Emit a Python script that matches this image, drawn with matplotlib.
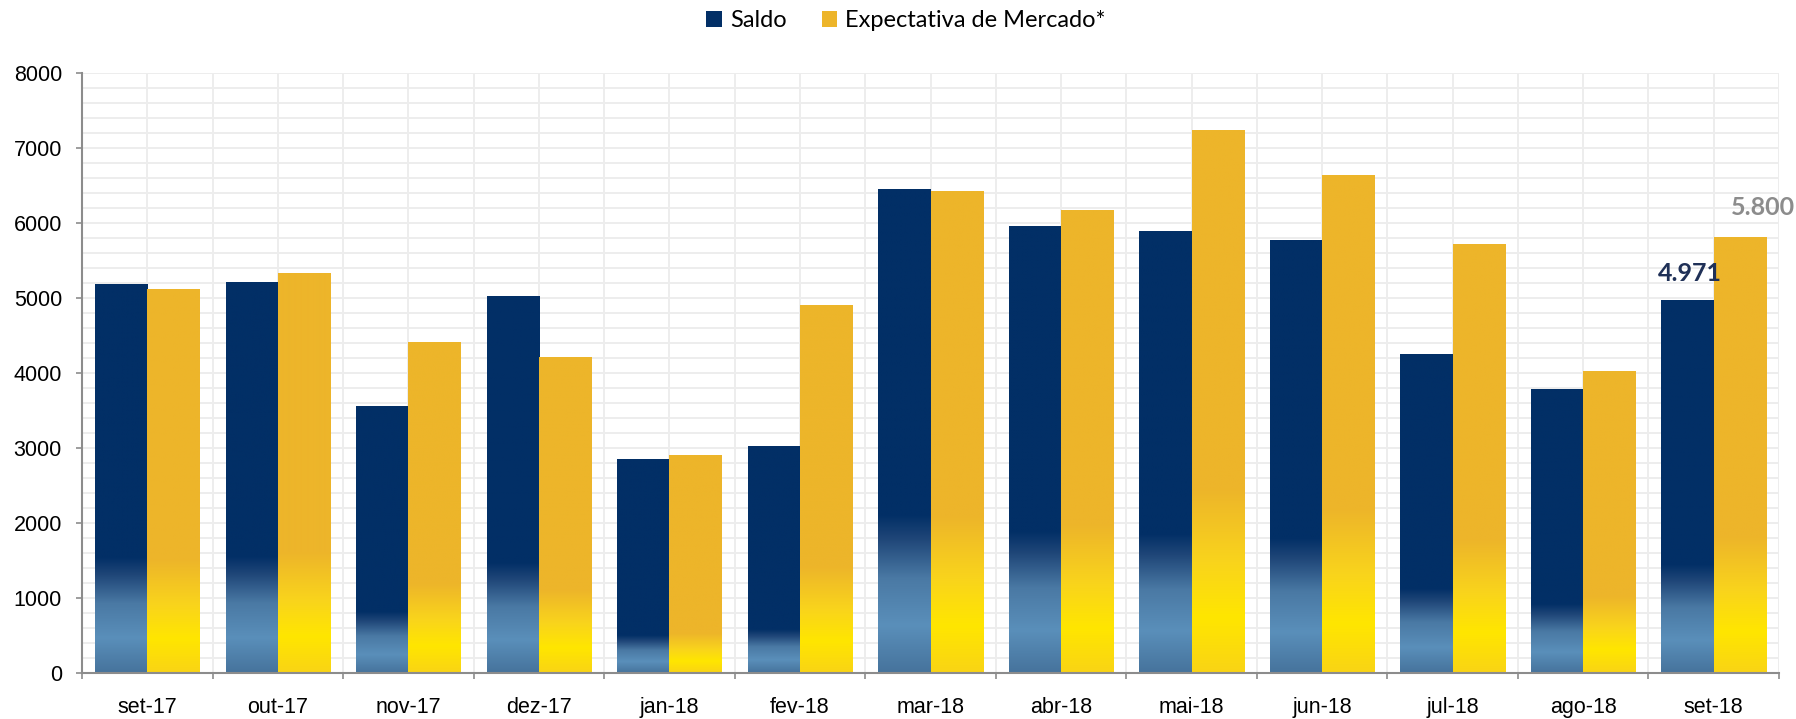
import numpy as np
import matplotlib
matplotlib.use("Agg")
import matplotlib.pyplot as plt
from matplotlib.patches import Patch
from matplotlib.colors import to_rgb

# data
months = ["set-17", "out-17", "nov-17", "dez-17", "jan-18", "fev-18", "mar-18",
          "abr-18", "mai-18", "jun-18", "jul-18", "ago-18", "set-18"]
saldo = [5180, 5200, 3550, 5020, 2840, 3020, 6440, 5950, 5880, 5760, 4250, 3780, 4971]
expectativa = [5110, 5330, 4400, 4200, 2900, 4900, 6420, 6160, 7230, 6630, 5710, 4020, 5800]
label_saldo = "4.971"
label_expect = "5.800"

NAVY = "#022f66"
GOLD = "#edb52a"
# gradient stops (fraction of the transition height -> colour)
BLUE_STOPS = [(0.0, "#46739c"), (0.3, "#5a8fba"), (0.6, "#4a79a4"), (0.85, "#1f4678"), (1.0, NAVY)]
GOLD_STOPS = [(0.0, "#f9d415"), (0.3, "#ffe600"), (0.6, "#f9d41c"), (1.0, GOLD)]

plt.rcParams["font.family"] = ["Liberation Sans", "DejaVu Sans"]

fig = plt.figure(figsize=(17.96, 7.19), dpi=100)
ax = fig.add_axes([0.0457, 0.064, 0.9448, 0.8345])

x = np.arange(len(months))
w = 0.4


def gradient_bar(xc, h, stops, top_color):
    ax.bar(xc, h, width=w, color=top_color, linewidth=0, zorder=2)
    trans = max(0.444 * h - 762, 0.12 * h)
    ys = np.linspace(0, h, 400)
    pos = [s * trans for s, _ in stops] + [h]
    cols = np.array([to_rgb(c) for _, c in stops] + [to_rgb(top_color)])
    img = np.stack([np.interp(ys, pos, cols[:, k]) for k in range(3)], axis=1)
    ax.imshow(img[:, None, :], extent=[xc - w / 2, xc + w / 2, 0, h],
              origin="lower", aspect="auto", zorder=3, interpolation="bilinear")


for i in range(len(months)):
    gradient_bar(x[i] - w / 2, saldo[i], BLUE_STOPS, NAVY)
    gradient_bar(x[i] + w / 2, expectativa[i], GOLD_STOPS, GOLD)

ax.set_xlim(-0.5, len(months) - 0.5)
ax.set_ylim(0, 8000)

# grid
ax.set_yticks(np.arange(0, 8001, 1000))
ax.set_yticks(np.arange(0, 8001, 200), minor=True)
ax.set_xticks(np.arange(-0.5, len(months), 1.0))
ax.set_xticks(x, minor=True)
ax.set_xticklabels([])
ax.set_xticklabels(months, minor=True)
ax.grid(True, which="both", color="#ededed", lw=1.4, zorder=0)
ax.set_axisbelow(True)

ax.tick_params(axis="y", which="major", length=4.5, width=1.2, color="#8c8c8c",
               labelsize=15.5, pad=10)
ax.tick_params(axis="y", which="minor", length=0)
ax.tick_params(axis="x", which="major", length=4.5, width=1.2, color="#8c8c8c")
ax.tick_params(axis="x", which="minor", length=0, labelsize=15.5, pad=17)

for s in ["top", "right"]:
    ax.spines[s].set_visible(False)
for s in ["left", "bottom"]:
    ax.spines[s].set_color("#8c8c8c")
    ax.spines[s].set_linewidth(1.5)
    ax.spines[s].set_zorder(5)

# value labels on the last month
ax.annotate(label_saldo, (x[-1] - w / 2, saldo[-1]), xytext=(2, 19), textcoords="offset points",
            ha="center", va="center", fontsize=18, fontweight="bold", color="#1f3057",
            family=["Lato", "DejaVu Sans"], zorder=6)
ax.annotate(label_expect, (x[-1] + w / 2, expectativa[-1]), xytext=(17, 22), textcoords="offset points",
            ha="center", va="center", fontsize=18, fontweight="bold", color="#8c8c8c",
            family=["Lato", "DejaVu Sans"], zorder=6, annotation_clip=False)

handles = [Patch(facecolor=NAVY, edgecolor="none"), Patch(facecolor=GOLD, edgecolor="none")]
fig.legend(handles, ["Saldo", "Expectativa de Mercado*"], loc="center", ncol=2,
           bbox_to_anchor=(0.5045, 0.971), frameon=False,
           prop={"family": ["Lato", "DejaVu Sans"], "size": 17},
           handlelength=0.65, handleheight=0.65, handletextpad=0.35, columnspacing=1.5)

fig.savefig("out.png", dpi=100)
